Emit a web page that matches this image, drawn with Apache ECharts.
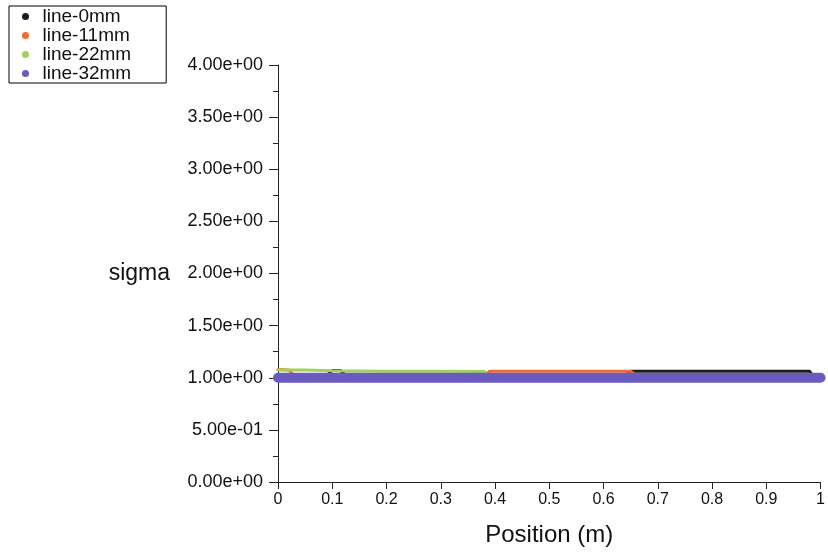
<!DOCTYPE html>
<html>
<head>
<meta charset="utf-8">
<script src="https://cdn.jsdelivr.net/npm/echarts@6/dist/echarts.min.js"></script>
<style>
  html, body { margin: 0; padding: 0; background: #fff; }
  #main { width: 828px; height: 556px; }
</style>
</head>
<body>
<div id="main"></div>
<script>
// series: [position (m), sigma]
const seriesNames = ['line-0mm', 'line-11mm', 'line-22mm', 'line-32mm']
const line0 = [[0, 1.02], [0.09, 1.02], [0.1, 1.07], [0.115, 1.07], [0.125, 1.02], [0.64, 1.02], [0.65, 1.062], [0.98, 1.062], [0.985, 1.02], [1, 1.02]]
const line11 = [[0, 1.08], [0.02, 1.075], [0.03, 1.02], [0.38, 1.02], [0.39, 1.062], [0.65, 1.062], [0.66, 1.02], [1, 1.02]]
const line22 = [[0, 1.075], [0.05, 1.075], [0.1, 1.066], [0.2, 1.063], [0.3, 1.062], [0.38, 1.06], [0.39, 1.02], [1, 1.02]]
const line32 = [[0, 1.0], [0.1, 1.0], [0.2, 1.0], [0.3, 1.0], [0.4, 1.0], [0.5, 1.0], [0.6, 1.0], [0.7, 1.0], [0.8, 1.0], [0.9, 1.0], [1, 1.0]]
const colors = ['#1c1c1c', '#f26b2e', '#9fd257', '#6b5bc0']

function sci(v) {
  const parts = v.toExponential(2).split('e')
  const exp = parts[1]
  return parts[0] + 'e' + exp[0] + exp.slice(1).padStart(2, '0')
}

const font = 'Liberation Sans, Arial, sans-serif'
const myChart = echarts.init(document.getElementById('main'))

const mk = (name, data, color, width, z) => ({
  name: name,
  type: 'line',
  data: data,
  symbol: 'none',
  z: z,
  itemStyle: { color: color },
  lineStyle: { color: color, width: width, cap: 'round' }
})

myChart.setOption({
  animation: false,
  textStyle: { fontFamily: font },
  legend: {
    orient: 'vertical',
    left: 9,
    top: 6,
    icon: 'circle',
    itemWidth: 24,
    itemHeight: 7,
    itemGap: 0,
    padding: [1, 35, 0, 13],
    borderColor: '#000',
    borderWidth: 1,
    data: seriesNames,
    textStyle: { fontSize: 19, color: '#111', fontFamily: font }
  },
  grid: { left: 278, right: 5, top: 65, bottom: 74, containLabel: false },
  xAxis: {
    type: 'value',
    min: 0,
    max: 1,
    interval: 0.1,
    name: 'Position (m)',
    nameLocation: 'middle',
    nameGap: 41,
    nameTextStyle: { fontSize: 24, color: '#111', fontFamily: font },
    axisLine: { show: true, lineStyle: { color: '#222', width: 1 } },
    axisTick: { show: true, length: 7, lineStyle: { color: '#222' } },
    axisLabel: { fontSize: 16, color: '#111', margin: 10, fontFamily: font },
    splitLine: { show: false }
  },
  yAxis: {
    type: 'value',
    min: 0,
    max: 4,
    interval: 0.5,
    name: 'sigma',
    nameLocation: 'middle',
    nameRotate: 0,
    nameGap: 108,
    nameTextStyle: { fontSize: 23, color: '#111', fontFamily: font },
    axisLine: { show: true, lineStyle: { color: '#222', width: 1 } },
    axisTick: { show: true, length: 9, lineStyle: { color: '#222' } },
    minorTick: { show: true, splitNumber: 2, length: 5, lineStyle: { color: '#222' } },
    axisLabel: { fontSize: 18, color: '#111', margin: 15, fontFamily: font, formatter: sci },
    splitLine: { show: false }
  },
  series: [
    mk(seriesNames[0], line0, colors[0], 3, 2),
    mk(seriesNames[1], line11, colors[1], 3, 3),
    mk(seriesNames[2], line22, colors[2], 3, 4),
    mk(seriesNames[3], line32, colors[3], 10, 5)
  ]
})
</script>
</body>
</html>
